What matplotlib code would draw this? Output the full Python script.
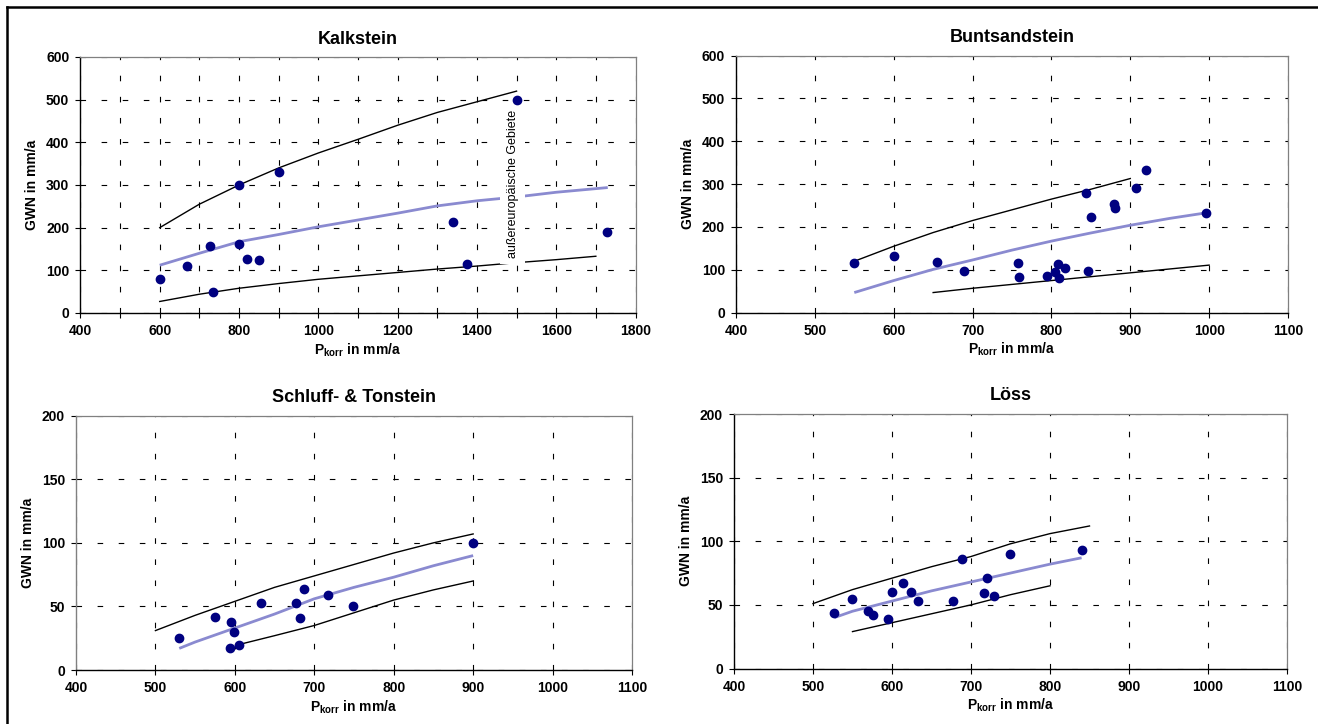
import matplotlib
matplotlib.use("Agg")
import matplotlib.pyplot as plt
from matplotlib.lines import Line2D

plt.rcParams['font.family'] = ['Liberation Sans', 'DejaVu Sans']
plt.rcParams['mathtext.fontset'] = 'custom'
plt.rcParams['mathtext.rm'] = 'Liberation Sans'
plt.rcParams['mathtext.bf'] = 'Liberation Sans:bold'

# ---------------- data ----------------
titles = ["Kalkstein", "Buntsandstein", "Schluff- & Tonstein", "Löss"]

kalk_p = [600, 670, 728, 734, 800, 800, 820, 851, 900, 1339, 1374, 1500, 1727]
kalk_gwn = [80, 111, 158, 50, 300, 162, 127, 124, 331, 213, 114, 500, 190]
kalk_up_x = [600, 700, 800, 900, 1000, 1100, 1200, 1300, 1400, 1500]
kalk_up_y = [200, 255, 300, 340, 375, 407, 440, 470, 495, 520]
kalk_lo_x = [600, 700, 800, 900, 1000, 1100, 1200, 1300, 1400, 1500, 1600, 1700]
kalk_lo_y = [27, 44, 58, 69, 79, 87, 95, 103, 110, 118, 125, 133]
kalk_fit_x = [600, 700, 800, 900, 1000, 1100, 1200, 1300, 1400, 1500, 1600, 1730]
kalk_fit_y = [112, 140, 167, 184, 202, 218, 234, 251, 263, 272, 283, 294]

bunt_p = [550, 600, 655, 689, 758, 759, 795, 804, 808, 810, 817, 844, 847, 850, 879, 881, 907, 920, 996]
bunt_gwn = [117, 133, 118, 97, 117, 83, 85, 96, 114, 82, 104, 280, 97, 224, 253, 245, 290, 332, 232]
bunt_up_x = [550, 600, 650, 700, 750, 800, 850, 900]
bunt_up_y = [120, 155, 187, 215, 240, 265, 288, 313]
bunt_lo_x = [650, 700, 750, 800, 850, 900, 950, 1000]
bunt_lo_y = [47, 57, 66, 75, 84, 93, 102, 111]
bunt_fit_x = [550, 600, 650, 700, 750, 800, 850, 900, 950, 1000]
bunt_fit_y = [47, 75, 101, 123, 146, 167, 186, 204, 220, 234]

schl_p = [530, 575, 595, 594, 599, 605, 633, 677, 682, 687, 717, 749, 900]
schl_gwn = [25, 42, 38, 17, 30, 20, 53, 53, 41, 64, 59, 50, 100]
schl_up_x = [500, 550, 600, 650, 700, 750, 800, 850, 900]
schl_up_y = [31, 43, 54, 65, 74, 83, 92, 100, 107]
schl_lo_x = [605, 650, 700, 750, 800, 850, 900]
schl_lo_y = [20, 27, 35, 45, 55, 63, 70]
schl_fit_x = [530, 550, 600, 650, 700, 750, 800, 850, 900]
schl_fit_y = [17, 22, 33, 44, 56, 65, 73, 82, 90]

loss_p = [527, 549, 570, 576, 595, 600, 614, 624, 633, 677, 689, 717, 720, 729, 749, 840]
loss_gwn = [44, 55, 45, 42, 39, 60, 67, 60, 53, 53, 86, 59, 71, 57, 90, 93]
loss_up_x = [500, 550, 600, 650, 700, 750, 800, 850]
loss_up_y = [51, 62, 71, 80, 88, 98, 106, 112]
loss_lo_x = [550, 600, 650, 700, 750, 800]
loss_lo_y = [29, 36, 43, 50, 58, 65]
loss_fit_x = [527, 550, 600, 650, 700, 750, 800, 840]
loss_fit_y = [40, 45, 53, 61, 68, 75, 82, 87]

kalk_xticks = [400, 500, 600, 700, 800, 900, 1000, 1100, 1200, 1300, 1400, 1500, 1600, 1700, 1800]
kalk_xticklabels = ["400", "", "600", "", "800", "", "1000", "", "1200", "", "1400", "", "1600", "", "1800"]
other_xticks = [400, 500, 600, 700, 800, 900, 1000, 1100]
big_yticks = [0, 100, 200, 300, 400, 500, 600]
small_yticks = [0, 50, 100, 150, 200]

note_text = "außereuropäische Gebiete"
ylabel = "GWN in mm/a"
xlabel = r"P$_{\mathbf{korr}}$ in mm/a"

# ---------------- figure ----------------
W, H = 1318, 724
fig = plt.figure(figsize=(W / 100, H / 100), dpi=100)

def px_axes(left, right, top, bottom):
    return fig.add_axes([left / W, 1 - bottom / H, (right - left) / W, (bottom - top) / H])

ax_k = px_axes(80.4, 635.5, 57, 313)
ax_b = px_axes(736, 1288, 55.5, 312.7)
ax_s = px_axes(76, 632, 415.7, 670)
ax_l = px_axes(734, 1287, 414, 668.5)

FIT_COLOR = '#8a8ad0'
PT_COLOR = '#000080'
GRID_DASH = (0, (5, 14))

def style(ax, title, xlim, ylim, xticks, xticklabels, yticks, left_gray=False):
    ax.set_xlim(*xlim)
    ax.set_ylim(*ylim)
    ax.set_xticks(xticks)
    ax.set_xticklabels(xticklabels)
    ax.set_yticks(yticks)
    ax.set_yticklabels([str(v) for v in yticks])
    ax.grid(True, color='black', linestyle=GRID_DASH, linewidth=0.8)
    ax.set_axisbelow(True)
    for s in ['top', 'right']:
        ax.spines[s].set_color('#808080')
        ax.spines[s].set_linewidth(0.9)
    ax.spines['bottom'].set_color('black')
    ax.spines['bottom'].set_linewidth(1.0)
    ax.spines['left'].set_color('#808080' if left_gray else 'black')
    ax.spines['left'].set_linewidth(1.0)
    ax.tick_params(axis='both', direction='out', length=3.5, width=0.8, color='black',
                   labelsize=10)
    ax.tick_params(axis='x', pad=4.5)
    ax.tick_params(axis='y', pad=4.5)
    for lab in ax.get_xticklabels() + ax.get_yticklabels():
        lab.set_fontweight('bold')
    bb = ax.get_position()
    wpx = bb.width * W
    hpx = bb.height * H
    ax.text(0.5, 1 + 18 / hpx, title, transform=ax.transAxes, ha='center', va='center',
            fontsize=13, fontweight='bold')
    ax.text(0.5, -37 / hpx, xlabel, transform=ax.transAxes, ha='center', va='center',
            fontsize=10, fontweight='bold')
    ax.text(-48 / wpx, 0.5, ylabel, transform=ax.transAxes, ha='center', va='center',
            rotation=90, fontsize=10, fontweight='bold')

def draw(ax, px, py, ux, uy, lx, ly, fx, fy):
    ax.plot(ux, uy, color='black', lw=1.0, zorder=3)
    ax.plot(lx, ly, color='black', lw=1.0, zorder=3)
    ax.plot(fx, fy, color=FIT_COLOR, lw=2.0, zorder=4, solid_capstyle='butt')
    ax.plot(px, py, 'o', color=PT_COLOR, ms=6.0, zorder=6, linestyle='none')

draw(ax_k, kalk_p, kalk_gwn, kalk_up_x, kalk_up_y, kalk_lo_x, kalk_lo_y, kalk_fit_x, kalk_fit_y)
style(ax_k, titles[0], (400, 1800), (0, 600), kalk_xticks, kalk_xticklabels, big_yticks)
ax_k.text(1490, 302, note_text, rotation=90, ha='center', va='center', fontsize=9,
          zorder=5, bbox=dict(facecolor='white', edgecolor='none', pad=4.5))

draw(ax_b, bunt_p, bunt_gwn, bunt_up_x, bunt_up_y, bunt_lo_x, bunt_lo_y, bunt_fit_x, bunt_fit_y)
style(ax_b, titles[1], (400, 1100), (0, 600), other_xticks, [str(v) for v in other_xticks], big_yticks)

draw(ax_s, schl_p, schl_gwn, schl_up_x, schl_up_y, schl_lo_x, schl_lo_y, schl_fit_x, schl_fit_y)
style(ax_s, titles[2], (400, 1100), (0, 200), other_xticks, [str(v) for v in other_xticks], small_yticks,
      left_gray=True)

draw(ax_l, loss_p, loss_gwn, loss_up_x, loss_up_y, loss_lo_x, loss_lo_y, loss_fit_x, loss_fit_y)
style(ax_l, titles[3], (400, 1100), (0, 200), other_xticks, [str(v) for v in other_xticks], small_yticks)

# outer frame (left and top edges visible)
fig.add_artist(Line2D([7 / W, 7 / W], [0, 1 - 7 / H], transform=fig.transFigure, color='black', lw=1.8))
fig.add_artist(Line2D([7 / W, 1], [1 - 7 / H, 1 - 7 / H], transform=fig.transFigure, color='black', lw=1.8))

fig.savefig("out.png", dpi=100)
